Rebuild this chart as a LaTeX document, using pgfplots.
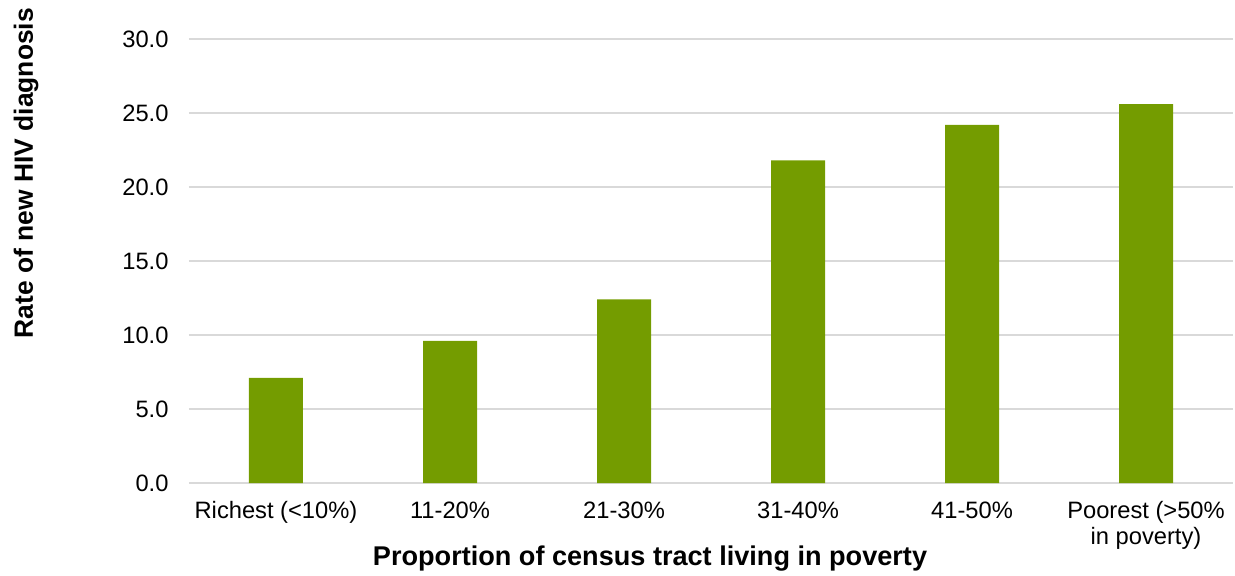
\documentclass[border=0pt]{standalone}
\usepackage{pgfplots}
\pgfplotsset{compat=1.18}
\usepackage{fontspec}
\setmainfont{Liberation Sans}
\definecolor{bargreen}{RGB}{116,156,0}
\definecolor{gridgray}{RGB}{217,217,217}
\begin{document}
\begin{tikzpicture}
\begin{axis}[
  scale only axis,
  width=1044bp, height=444bp,
  xmin=-0.5, xmax=5.5, ymin=0, ymax=30,
  ytick={0,5,...,30},
  xtick={0,1,2,3,4,5},
  xticklabels={Richest (<10\%),11-20\%,21-30\%,31-40\%,41-50\%,{Poorest (>50\%\\in poverty)}},
  xticklabel style={align=center, font=\fontsize{23.8}{26}\selectfont},
  yticklabel style={font=\fontsize{23.8}{26}\selectfont},
  /pgf/number format/assume math mode=true,
  yticklabel={\pgfmathprintnumber[fixed,fixed zerofill,precision=1]{\tick}},
  axis line style={draw=none},
  major tick length=0pt,
  ymajorgrids, grid style={gridgray, line width=1.5bp},
  xlabel={\bfseries Proportion of census tract living in poverty},
  ylabel={\bfseries Rate of new HIV diagnosis},
  every axis x label/.style={at={(axis description cs:0.4416,-0.171)},anchor=center,font=\fontsize{27.2}{30}\selectfont},
  every axis y label/.style={at={(axis description cs:-0.156,0.698)},rotate=90,anchor=center,font=\fontsize{26.5}{30}\selectfont},
  yticklabel style={xshift=-17bp},
  xticklabel style={yshift=-15bp},
  clip=false,
]
\addplot[ybar, bar width=54bp, fill=bargreen, draw=none] coordinates {
(0,7.1) (1,9.6) (2,12.4) (3,21.8) (4,24.2) (5,25.6)
};
\end{axis}
\pgfresetboundingbox
\path (current axis.south west) ++(-189bp,-93bp) rectangle ++(1235bp,576bp);
\end{tikzpicture}
\end{document}
